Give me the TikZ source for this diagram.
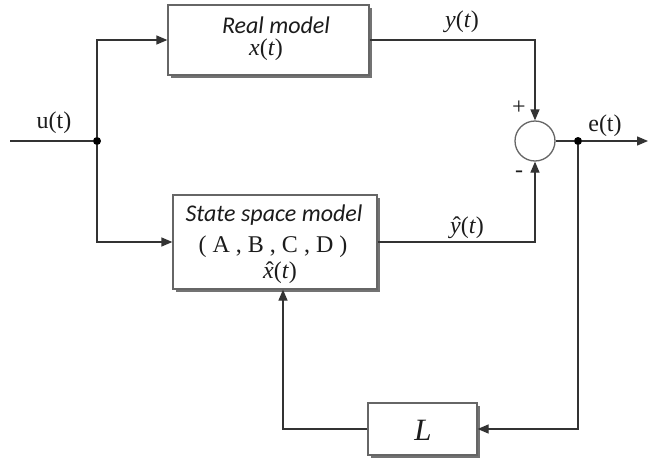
\documentclass[tikz,border=0pt]{standalone}
\usepackage{fontspec}
\setmainfont{Liberation Serif}
\newfontfamily\calibrifont{Carlito}
\usetikzlibrary{arrows.meta,shadows}
\definecolor{wire}{HTML}{333333}
\definecolor{boxline}{HTML}{666666}
\definecolor{txt}{HTML}{1C1C1C}
\newcommand{\varit}[1]{\textit{#1}}
% italic letter with an upright circumflex set over it
\newcommand{\hatit}[1]{{\ooalign{\varit{#1}\cr\hidewidth\kern0.12em\char"02C6\hidewidth\cr}}}
\begin{document}
\begin{tikzpicture}[x=1pt,y=-1pt,
  font=\fontsize{24}{28}\selectfont, text=txt,
  blockbox/.style={draw=boxline, fill=white, line width=1.3pt, inner sep=0pt,
    drop shadow={shadow xshift=3pt, shadow yshift=-3pt, fill=black!55, opacity=1}},
  wireline/.style={draw=wire, line width=1.3pt},
  arrowline/.style={wireline, -{Triangle[length=11pt,width=9pt]}},
  junction/.style={circle, fill=black, inner sep=0pt, minimum size=8pt},
  lbl/.style={inner sep=0pt},
  sumnode/.style={circle, draw=boxline, fill=white, line width=1.3pt, inner sep=0pt, minimum size=40pt}]
\useasboundingbox (0,0) rectangle (649,461);

% blocks
\node[blockbox, minimum width=201pt, minimum height=70pt] (real) at (268.5,40) {};
\node[blockbox, minimum width=204pt, minimum height=94pt] (state) at (275,242) {};
\node[blockbox, minimum width=109pt, minimum height=52pt] (gain) at (422.5,429) {};
\node[sumnode] (sum) at (535,141) {};

% block texts
\node[lbl] (realtxt) at (276,25) {\calibrifont\itshape Real model};
\node[lbl] (realx) at (266,50) {\varit{x}(\varit{t})};
\node[lbl] (statetxt) at (274,215) {\calibrifont\itshape State space model};
\node[lbl] (abcd) at (273,247) {( A , B , C , D )};
\node[lbl] (statex) at (280,273) {\hatit{x}(\varit{t})};
\node[lbl, font=\fontsize{31}{34}\selectfont] (gaintxt) at (423,430) {\varit{L}};

% signal labels
\node[lbl] (ulbl) at (54,123) {u(t)};
\node[lbl] (ylbl) at (462,22) {\varit{y}(\varit{t})};
\node[lbl] (yhlbl) at (467,228) {\hatit{y}(\varit{t})};
\node[lbl] (elbl) at (605,126) {e(t)};
\node[lbl, font=\fontsize{24}{26}\selectfont] (plus) at (519,108) {+};
\node[lbl, font=\fontsize{24}{26}\selectfont] (minus) at (519,174) {-};

% input and branch point
\coordinate (uin) at (10,141);
\node[junction] (ju) at (97,141) {};
\coordinate (jtop) at (97,40);
\coordinate (jbot) at (97,242);
\draw[wireline] (uin) -- (ju);
\draw[arrowline] (ju) -- (jtop) -- (real.west);
\draw[arrowline] (ju) -- (jbot) -- (state.west);

% outputs into the summing junction
\coordinate (ycorner) at (535,40);
\coordinate (yhcorner) at (535,242);
\draw[arrowline] (real.east) -- (ycorner) -- (sum.north);
\draw[arrowline] (state.east) -- (yhcorner) -- (sum.south);

% error output
\node[junction] (jo) at (578,141) {};
\coordinate (eout) at (648,141);
\draw[wireline] (sum.east) -- (jo);
\draw[arrowline] (jo) -- (eout);

% feedback through L
\coordinate (fbcorner) at (578,429);
\coordinate (fbleft) at (283,429);
\draw[arrowline] (jo) -- (fbcorner) -- (gain.east);
\draw[arrowline] (gain.west) -- (fbleft) -- (fbleft |- state.south);
\end{tikzpicture}
\end{document}
